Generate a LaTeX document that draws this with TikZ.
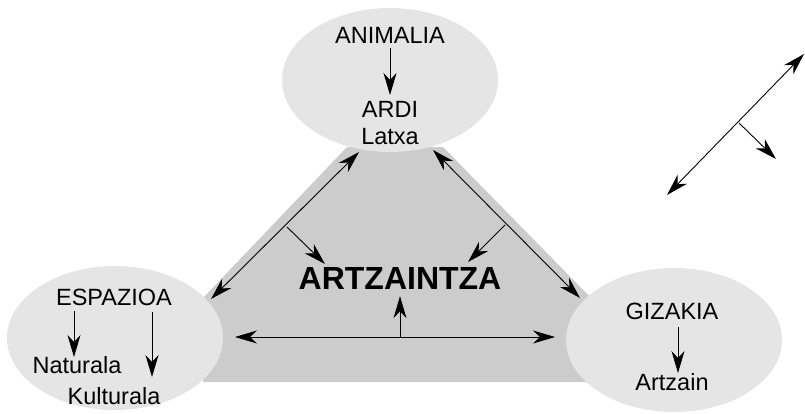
\documentclass[tikz,border=0pt]{standalone}
\usepackage{fontspec}
\setmainfont{Liberation Sans}
\usepackage{tikz}
\usetikzlibrary{shapes.geometric, arrows.meta}

\definecolor{blobgray}{gray}{0.90}
\definecolor{basegray}{gray}{0.80}

\begin{document}
\begin{tikzpicture}[x=1pt, y=-1pt,
      blob/.style={ellipse, fill=blobgray, inner sep=0pt,
        minimum width=216pt, minimum height=144pt},
      word/.style={anchor=base, inner sep=0pt, font=\fontsize{23.5}{27}\selectfont},
      title/.style={anchor=base, inner sep=0pt, font=\fontsize{32}{38}\selectfont\bfseries},
      arr/.style={-{Stealth[length=22pt, width=13pt, inset=7pt]}, line width=0.9pt},
      darr/.style={{Stealth[length=22pt, width=13pt, inset=7pt]}-{Stealth[length=22pt, width=13pt, inset=7pt]}, line width=0.9pt}]
      \useasboundingbox (0,0) rectangle (805,413);
      % base
      \fill[basegray] (203,382) -- (203,298) -- (347,147) -- (443,147)
        -- (590,297) -- (590,382) -- cycle;
      % the three fields
      \node[blob] (animalia-ell) at (390,80) {};
      \node[blob] (espazioa-ell) at (115,338) {};
      \node[blob] (gizakia-ell) at (674,340) {};
      % texts
      \node[word] (animalia) at (390,43) {ANIMALIA};
      \node[word] (ardi) at (390,117) {ARDI};
      \node[word] (latxa) at (390,144) {Latxa};
      \node[word] (espazioa) at (114,305) {ESPAZIOA};
      \node[word] (naturala) at (77,373) {Naturala};
      \node[word] (kulturala) at (114,404) {Kulturala};
      \node[word] (gizakia) at (672,319) {GIZAKIA};
      \node[word] (artzain) at (672,390) {Artzain};
      \node[title] (artzaintza) at (400,289) {ARTZAINTZA};
      % arrows inside the fields
      \draw[arr] ([yshift=-5pt]animalia.base) -- ([yshift=22pt]ardi.base);
      \draw[arr] ([xshift=-40pt, yshift=-6pt]espazioa.base) -- ([xshift=-3pt, yshift=16pt]naturala.base);
      \draw[arr] ([xshift=38pt, yshift=-7pt]espazioa.base) -- ([xshift=38pt, yshift=27pt]kulturala.base);
      \draw[arr] ([xshift=6pt, yshift=-8pt]gizakia.base) -- ([xshift=6pt, yshift=17pt]artzain.base);
      % links between the fields
      \coordinate (left-a) at (211,299);
      \coordinate (left-b) at (359,152);
      \coordinate (left-m) at (287,227);
      \coordinate (right-a) at (433,150);
      \coordinate (right-b) at (580,298);
      \coordinate (right-m) at (505,225);
      \coordinate (bottom-a) at (235,337);
      \coordinate (bottom-b) at (555,337);
      \coordinate (bottom-m) at (400,337);
      \draw[darr] (left-a) -- (left-b);
      \draw[arr] (left-m) -- (325,264);
      \draw[darr] (right-a) -- (right-b);
      \draw[arr] (right-m) -- (468,262);
      \draw[darr] (bottom-a) -- (bottom-b);
      \draw[arr] (bottom-m) -- ([yshift=-7pt]artzaintza.south);
      % legend
      \coordinate (key-a) at (667,195);
      \coordinate (key-b) at (804,54);
      \coordinate (key-m) at (739,123);
      \draw[darr] (key-a) -- (key-b);
      \draw[arr] (key-m) -- (776,159);
    \end{tikzpicture}
\end{document}
